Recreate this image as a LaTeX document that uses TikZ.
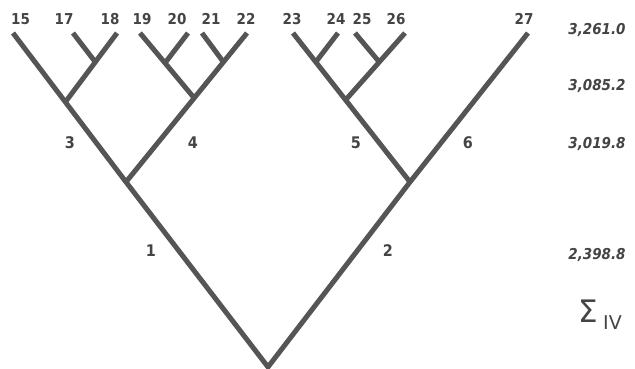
\documentclass[tikz,border=0pt]{standalone}
\usepackage{fontspec}
\setmainfont{DejaVu Sans}
\newfontfamily\condfont{DejaVu Sans Condensed}
\definecolor{ink}{HTML}{555555}
\definecolor{txt}{HTML}{444444}
\begin{document}
\begin{tikzpicture}[x=1pt,y=-1pt,
  branch/.style={draw=ink,line width=5pt,line cap=butt,line join=miter},
  leaflab/.style={text=txt,font=\condfont\bfseries\fontsize{15}{15}\selectfont,inner sep=0pt,text depth=0pt},
  edgelab/.style={text=txt,font=\condfont\bfseries\fontsize{16}{16}\selectfont,inner sep=0pt,text depth=0pt},
  vallab/.style={text=txt,font=\condfont\bfseries\itshape\fontsize{15}{15}\selectfont,inner sep=0pt,text depth=0pt},
  sigmalab/.style={text=txt,inner sep=0pt,anchor=base west}]
\useasboundingbox (0,0) rectangle (635,369);
% points of the tree
\coordinate (R) at (268,367);
\coordinate (A) at (126,182);
\coordinate (B) at (410,182);
\coordinate (L15) at (13,33);
\coordinate (J3) at (65.4,102);
\coordinate (L18) at (117,33);
\coordinate (J1718) at (95.3,62);
\coordinate (L17) at (73,33);
\coordinate (L22) at (247,33);
\coordinate (J4) at (194.2,98);
\coordinate (J2122) at (223.4,62);
\coordinate (L21) at (202,33);
\coordinate (L19) at (140,33);
\coordinate (J1920) at (165,63);
\coordinate (L20) at (188,33);
\coordinate (L23) at (293,33);
\coordinate (J5) at (345.6,100);
\coordinate (J2324) at (315.8,62);
\coordinate (L24) at (338,33);
\coordinate (L26) at (405,33);
\coordinate (J2526) at (379.3,62);
\coordinate (L25) at (355,33);
\coordinate (L27) at (528,33);
% branches
\draw[branch] (L15) -- (A) -- (R) -- (B) -- (L27);
\draw[branch] (J3) -- (L18);
\draw[branch] (J1718) -- (L17);
\draw[branch] (A) -- (L22);
\draw[branch] (J4) -- (L19);
\draw[branch] (J1920) -- (L20);
\draw[branch] (J2122) -- (L21);
\draw[branch] (B) -- (L23);
\draw[branch] (J5) -- (L26);
\draw[branch] (J2324) -- (L24);
\draw[branch] (J2526) -- (L25);
% leaf labels
\node[leaflab] (t15) at (20.5,19) {15};
\node[leaflab] (t17) at (64,19) {17};
\node[leaflab] (t18) at (110,19) {18};
\node[leaflab] (t19) at (142,19) {19};
\node[leaflab] (t20) at (177,19) {20};
\node[leaflab] (t21) at (211,19) {21};
\node[leaflab] (t22) at (246,19) {22};
\node[leaflab] (t23) at (292,19) {23};
\node[leaflab] (t24) at (336,19) {24};
\node[leaflab] (t25) at (362,19) {25};
\node[leaflab] (t26) at (396,19) {26};
\node[leaflab] (t27) at (524,19) {27};
% branch labels
\node[edgelab] (e3) at (70,143) {3};
\node[edgelab] (e4) at (193,143) {4};
\node[edgelab] (e5) at (356,143) {5};
\node[edgelab] (e6) at (468,143) {6};
\node[edgelab] (e1) at (151,251) {1};
\node[edgelab] (e2) at (388,251) {2};
% values
\node[vallab] (v1) at (597,29) {3,261.0};
\node[vallab] (v2) at (597,85) {3,085.2};
\node[vallab] (v3) at (597,143) {3,019.8};
\node[vallab] (v4) at (597,254) {2,398.8};
\node[sigmalab,font=\fontsize{31}{31}\selectfont] (sig) at (578,322) {Σ};
\node[sigmalab,font=\fontsize{19}{19}\selectfont] (sub) at (603,329) {IV};
\end{tikzpicture}
\end{document}
